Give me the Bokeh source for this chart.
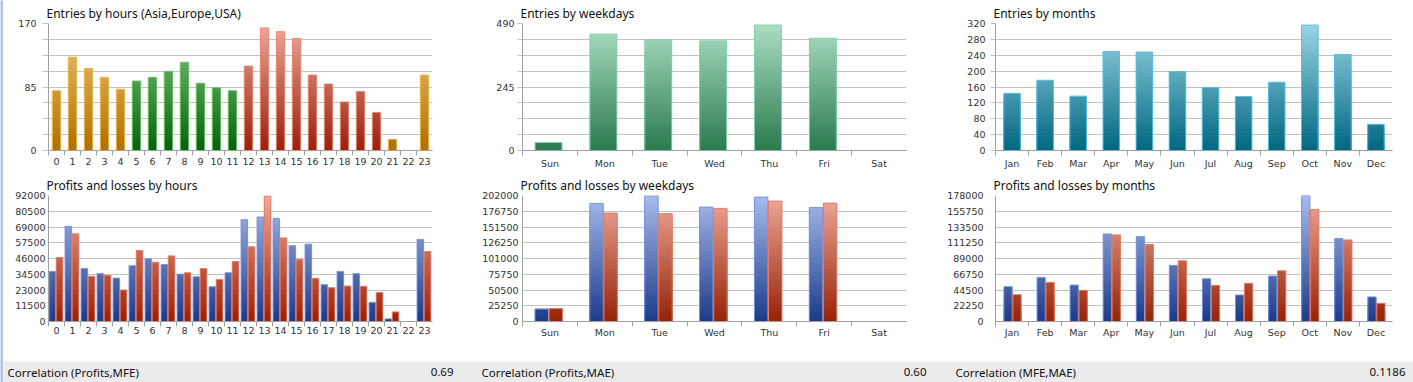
import numpy as np
from bokeh.plotting import figure
from bokeh.models import FixedTicker, Range1d, NumeralTickFormatter
from bokeh.layouts import column, row
from bokeh.embed import file_html
from bokeh.resources import INLINE
from bokeh.core.properties import value

# ---------------- data ----------------
hours = [str(h) for h in range(24)]
hour_session = ["Asia"] * 5 + ["Europe"] * 7 + ["USA"] * 9 + ["Asia"] * 3
hour_entries = [80, 125, 110, 98, 82, 93, 98, 106, 118, 90, 84, 80,
                113, 164, 159, 150, 101, 89, 65, 79, 51, 15, 0, 101]

weekdays = ["Sun", "Mon", "Tue", "Wed", "Thu", "Fri", "Sat"]
weekday_entries = [31, 449, 427, 423, 484, 433, 0]

months = ["Jan", "Feb", "Mar", "Apr", "May", "Jun",
          "Jul", "Aug", "Sep", "Oct", "Nov", "Dec"]
month_entries = [144, 177, 137, 249, 248, 199, 159, 136, 172, 316, 242, 66]

hour_profits = [36500, 69500, 38700, 34900, 31700, 40700, 45800, 41600,
                34600, 32700, 25400, 35600, 74300, 76300, 75300, 55400,
                56400, 26900, 36600, 34900, 14000, 1900, 0, 60000]
hour_losses = [46700, 64000, 33000, 33700, 23000, 51800, 43300, 47900,
               35600, 38700, 30700, 43800, 54500, 91700, 61000, 45300,
               31500, 24700, 25900, 25700, 21100, 7000, 0, 51100]

weekday_profits = [20200, 189300, 201500, 183400, 199400, 182900, 0]
weekday_losses = [20700, 173800, 172800, 181300, 193000, 189800, 0]

month_profits = [49200, 62300, 51500, 123700, 119900, 79200,
                 60400, 37500, 64200, 178000, 117100, 34700]
month_losses = [37900, 55300, 44000, 122300, 108700, 85700,
                51100, 53900, 71700, 158300, 115200, 25800]

correlation_labels = ["Correlation (Profits,MFE)", "Correlation (Profits,MAE)", "Correlation (MFE,MAE)"]
correlation_values = ["0.69", "0.60", "0.1186"]

# axis scales (max, steps, label every n-th step)
hour_entries_axis = (170, 8, 4)
weekday_entries_axis = (490, 8, 4)
month_entries_axis = (320, 8, 1)
hour_pl_axis = (92000, 8, 1)
weekday_pl_axis = (202000, 8, 1)
month_pl_axis = (178000, 8, 1)

# ---------------- style ----------------
TICK_FONT = "DejaVu Sans"
TICK_SIZE = "9.5px"
TITLE_FONT = "Noto Sans"
GRID = "#c2c2c2"
AXIS = "#a0a0a0"

session_colors = {
    "Asia": ("#b07000", "#f2c678", "#f0b850"),
    "Europe": ("#046404", "#88cc88", "#6cc06c"),
    "USA": ("#952206", "#eeaa9c", "#ee8672"),
}
WEEK_COL = ("#2a7a50", "#acdec4", "#7fd4a6")
MONTH_COL = ("#006680", "#9cd6e6", "#52c0e0")
BLUE_COL = ("#1c3a88", "#a8bcec", "#7696e0")
RED_COL = ("#952206", "#eeaa9c", "#ec7a62")


def hex2rgb(h):
    h = h.lstrip("#")
    return np.array([int(h[i:i + 2], 16) for i in (0, 2, 4)], float)


def mix(c0, c1, t):
    a, b = hex2rgb(c0), hex2rgb(c1)
    c = a + (b - a) * t
    return "#%02x%02x%02x" % tuple(int(round(v)) for v in c)


def grad_bars(p, xs, vals, w, ymax, cols, nb=36):
    cb, ct, lc = cols
    xs = np.asarray(xs, float)
    vals = np.asarray(vals, float)
    for k in reversed(range(nb)):
        lo = ymax * k / nb
        hi = ymax * (k + 1) / nb
        m = vals > lo
        if not m.any():
            continue
        col = mix(cb, ct, (k + 0.5) / nb)
        p.vbar(x=xs[m], bottom=0, top=np.minimum(vals[m], hi), width=w,
               fill_color=col, line_color=None)
    m = vals > 0
    p.vbar(x=xs[m], bottom=0, top=vals[m], width=w, fill_color=None,
           line_color=lc, line_width=1)


def make_fig(title, cats, axis_spec, width, height, bl, br, bt, bb,
             tick_out, y_standoff, x_standoff):
    ymax, nsteps, every = axis_spec
    n = len(cats)
    p = figure(width=width, height=height,
               x_range=Range1d(-0.5, n - 0.5), y_range=Range1d(0, ymax),
               output_backend="svg", toolbar_location=None,
               min_border_left=bl, min_border_right=br,
               min_border_top=bt, min_border_bottom=bb)
    p.outline_line_color = None
    p.background_fill_color = "white"
    p.border_fill_color = "white"
    p.title.text = title
    p.title.text_font = TITLE_FONT
    p.title.text_font_size = "12px"
    p.title.text_font_style = "normal"
    p.title.text_color = "#111111"
    p.title.align = "left"
    p.title.offset = -2
    p.title.standoff = 4

    vals = [ymax * i / nsteps for i in range(nsteps + 1)]
    major = [v for i, v in enumerate(vals) if i % every == 0]
    minor = [v for i, v in enumerate(vals) if i % every != 0]
    yt = FixedTicker(ticks=major, minor_ticks=minor)
    p.yaxis.ticker = yt
    p.ygrid.ticker = yt
    p.ygrid.grid_line_color = GRID
    p.ygrid.minor_grid_line_color = GRID if minor else None
    p.xgrid.grid_line_color = None

    ya = p.yaxis[0]
    ya.formatter = NumeralTickFormatter(format="0")
    ya.axis_line_color = AXIS
    ya.major_tick_line_color = GRID if tick_out else None
    ya.minor_tick_line_color = GRID if (tick_out and minor) else None
    ya.major_tick_out = tick_out
    ya.major_tick_in = 0
    ya.minor_tick_out = tick_out
    ya.minor_tick_in = 0
    ya.major_label_standoff = y_standoff
    ya.major_label_text_font = TICK_FONT
    ya.major_label_text_font_size = TICK_SIZE
    ya.major_label_text_color = "#333333"

    xa = p.xaxis[0]
    xa.ticker = FixedTicker(ticks=list(range(n)), minor_ticks=[i - 0.5 for i in range(n)])
    xa.major_label_overrides = {i: c for i, c in enumerate(cats)}
    xa.axis_line_color = AXIS
    xa.major_tick_line_color = None
    xa.major_tick_out = 0
    xa.major_tick_in = 0
    xa.minor_tick_line_color = AXIS
    xa.minor_tick_out = 5
    xa.minor_tick_in = 0
    xa.major_label_standoff = x_standoff
    xa.major_label_text_font = TICK_FONT
    xa.major_label_text_font_size = TICK_SIZE
    xa.major_label_text_color = "#333333"
    return p


W1, W2, W3 = 467, 474, 469

# ---------------- row 1 ----------------
H1 = 172
f1 = make_fig("Entries by hours (Asia,Europe,USA)", hours, hour_entries_axis,
              W1, H1, 45, 38, 23, 22, 6, 6, 2)
idx = np.arange(len(hours))
sess = np.array(hour_session)
for s in ["Asia", "Europe", "USA"]:
    m = sess == s
    grad_bars(f1, idx[m], np.array(hour_entries)[m], 0.52, hour_entries_axis[0], session_colors[s])

f2 = make_fig("Entries by weekdays", weekdays, weekday_entries_axis,
              W2, H1, 52, 38, 23, 22, 5, 3, 2)
grad_bars(f2, np.arange(len(weekdays)) - 0.025, weekday_entries, 0.49, weekday_entries_axis[0], WEEK_COL)

f3 = make_fig("Entries by months", months, month_entries_axis,
              W3, H1, 51, 21, 23, 22, 5, 5, 2)
grad_bars(f3, np.arange(len(months)), month_entries, 0.5, month_entries_axis[0], MONTH_COL)

# ---------------- row 2 ----------------
H2 = 189
f4 = make_fig("Profits and losses by hours", hours, hour_pl_axis,
              W1, H2, 45, 38, 22, 40, 0, 3, 0)
grad_bars(f4, idx - 0.26, hour_profits, 0.41, hour_pl_axis[0], BLUE_COL)
grad_bars(f4, idx + 0.19, hour_losses, 0.41, hour_pl_axis[0], RED_COL)

f5 = make_fig("Profits and losses by weekdays", weekdays, weekday_pl_axis,
              W2, H2, 52, 38, 22, 40, 0, 4, 0)
wi = np.arange(len(weekdays))
grad_bars(f5, wi - 0.15, weekday_profits, 0.245, weekday_pl_axis[0], BLUE_COL)
grad_bars(f5, wi + 0.107, weekday_losses, 0.245, weekday_pl_axis[0], RED_COL)

f6 = make_fig("Profits and losses by months", months, month_pl_axis,
              W3, H2, 51, 21, 22, 40, 0, 12, 0)
mi = np.arange(len(months))
grad_bars(f6, mi - 0.12, month_profits, 0.25, month_pl_axis[0], BLUE_COL)
grad_bars(f6, mi + 0.15, month_losses, 0.25, month_pl_axis[0], RED_COL)

# ---------------- correlation strip ----------------
SW, SH = W1 + W2 + W3, 21
strip = figure(width=SW, height=SH, x_range=Range1d(0, SW), y_range=Range1d(0, SH),
               output_backend="svg", toolbar_location=None,
               x_axis_type=None, y_axis_type=None, min_border=0)
strip.grid.visible = False
strip.outline_line_color = None
strip.background_fill_color = "#ebebeb"
strip.border_fill_color = "#ebebeb"
strip.text(x=[4, 478, 952], y=[10.5, 10.5, 10.5], text=correlation_labels,
           text_font=value(TITLE_FONT), text_font_size="11.5px",
           text_color="#111111", text_align="left", text_baseline="middle")
strip.text(x=[450, 923, SW - 8], y=[10.5, 10.5, 10.5], text=correlation_values,
           text_font=value(TITLE_FONT), text_font_size="11.5px",
           text_color="#111111", text_align="right", text_baseline="middle")

# thin window edge on the left
edge = figure(width=3, height=H1 + H2 + SH, x_range=Range1d(0, 1), y_range=Range1d(0, 1),
              output_backend="svg", toolbar_location=None,
              x_axis_type=None, y_axis_type=None, min_border=0)
edge.grid.visible = False
edge.outline_line_color = None
edge.background_fill_color = "#adc4e2"
edge.border_fill_color = "#adc4e2"

layout = row(edge, column(row(f1, f2, f3), row(f4, f5, f6), strip))

with open("out.html", "w") as fh:
    fh.write(file_html(layout, INLINE))
